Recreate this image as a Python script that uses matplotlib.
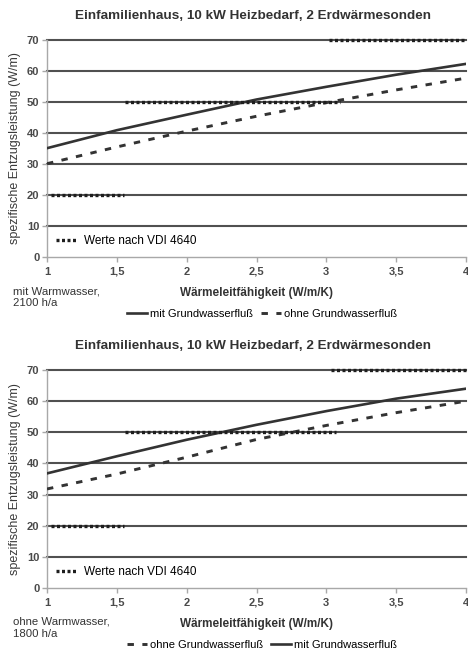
import matplotlib
matplotlib.use("Agg")
import matplotlib.pyplot as plt
from matplotlib.lines import Line2D

plt.rcParams['font.family'] = ['Liberation Sans', 'DejaVu Sans']

title = "Einfamilienhaus, 10 kW Heizbedarf, 2 Erdwärmesonden"
ylabel = "spezifische Entzugsleistung (W/m)"
xlabel = "Wärmeleitfähigkeit (W/m/K)"
vdi_label = "Werte nach VDI 4640"

x_vals = [1.0, 1.5, 2.0, 2.5, 3.0, 3.5, 4.0]
x_ticks = [1, 1.5, 2, 2.5, 3, 3.5, 4]
x_ticklabels = ["1", "1,5", "2", "2,5", "3", "3,5", "4"]
y_ticks = [0, 10, 20, 30, 40, 50, 60, 70]

# top chart: mit Warmwasser, 2100 h/a
top_mit = [35.1, 40.9, 45.9, 50.8, 54.9, 58.8, 62.3]
top_ohne = [30.1, 35.5, 40.6, 45.4, 49.8, 53.9, 57.7]
# bottom chart: ohne Warmwasser, 1800 h/a
bot_mit = [36.8, 42.3, 47.6, 52.4, 56.8, 60.8, 64.0]
bot_ohne = [31.8, 36.6, 42.0, 47.7, 52.2, 56.3, 60.0]

# VDI 4640 step values (x start, x end, value)
top_vdi_x = [[1.03, 1.55], [1.56, 3.10], [3.02, 4.0]]
bot_vdi_x = [[1.03, 1.55], [1.56, 3.07], [3.03, 4.0]]
vdi_y = [20, 50, 70]

top_note = "mit Warmwasser,\n2100 h/a"
bot_note = "ohne Warmwasser,\n1800 h/a"

W, H = 468, 655
fig = plt.figure(figsize=(W / 100, H / 100), dpi=100)

dark = "#333333"
dash_style = (2.2, 2.9)
dot_style = (0.9, 0.75)


def fy(p):
    return 1 - p / H


def make(ax_top_px, ax_bot_px, mit, ohne, vdi_x, note, order):
    left = 47 / W
    right = 466 / W
    ax = fig.add_axes([left, fy(ax_bot_px), right - left, fy(ax_top_px) - fy(ax_bot_px)])
    ax.set_xlim(1, 4)
    ax.set_ylim(0, 70)
    ax.set_facecolor("white")
    for v in y_ticks[1:]:
        ax.axhline(v, color="#505050", lw=1.5, zorder=1, clip_on=False)
    ax.plot(x_vals, mit, color=dark, lw=1.9, zorder=3, solid_joinstyle="round")
    ax.plot(x_vals, ohne, color=dark, lw=2.1, dashes=dash_style, zorder=3)
    for xs, v in zip(vdi_x, vdi_y):
        ax.plot(xs, [v, v], color="#1e1e1e", lw=2.4, dashes=dot_style, zorder=4,
                clip_on=False)
    for s in ("top", "right"):
        ax.spines[s].set_visible(False)
    for s in ("left", "bottom"):
        ax.spines[s].set_color("#a8a8a8")
        ax.spines[s].set_linewidth(1.0)
    ax.set_xticks(x_ticks)
    ax.set_xticklabels(x_ticklabels)
    ax.set_yticks(y_ticks)
    ax.tick_params(axis="both", colors="#a8a8a8", labelcolor="#4a4a4a",
                   labelsize=8, length=3.5, width=1)
    ax.tick_params(axis="x", pad=9.3)
    ax.tick_params(axis="y", pad=2)
    for lab in ax.get_xticklabels():
        lab.set_fontweight("bold")
        lab.set_verticalalignment("baseline")
    for lab in ax.get_yticklabels():
        lab.set_fontweight("bold")
    ax.set_ylabel(ylabel, fontsize=9, color="#3a3a3a")
    ax.yaxis.set_label_coords((21 - 47) / 419, 0.5)
    h_vdi = Line2D([0], [0], color="#1e1e1e", lw=2.4, dashes=dot_style)
    ax.legend([h_vdi], [vdi_label], loc="center left",
              bbox_to_anchor=(0.0, 5 / 70), frameon=False,
              handlelength=1.7, handletextpad=0.6, borderaxespad=0.4,
              prop={"size": 8.5})
    # title
    fig.text(253 / W, fy(ax_top_px - 24), title, ha="center", va="center",
             fontsize=9.7, fontweight="bold", color="#333333")
    # xlabel
    fig.text(257 / W, fy(ax_bot_px + 36), xlabel, ha="center", va="center",
             fontsize=8.5, fontweight="bold", color="#333333")
    # note
    fig.text(13 / W, fy(ax_bot_px + 40), note, ha="left", va="center",
             fontsize=8.2, color="#333333", linespacing=1.25)
    # bottom legend
    h_mit = Line2D([0], [0], color=dark, lw=1.9)
    h_ohne = Line2D([0], [0], color=dark, lw=2.1, dashes=dash_style)
    if order == "mit_first":
        handles, labels = [h_mit, h_ohne], ["mit Grundwasserfluß", "ohne Grundwasserfluß"]
    else:
        handles, labels = [h_ohne, h_mit], ["ohne Grundwasserfluß", "mit Grundwasserfluß"]
    fig.legend(handles, labels, loc="center", bbox_to_anchor=(262 / W, fy(ax_bot_px + 57)),
               ncol=2, frameon=False, fontsize=8, handlelength=1.8,
               handletextpad=0.3, columnspacing=0.7, borderpad=0)
    return ax


make(40, 257, top_mit, top_ohne, top_vdi_x, top_note, "mit_first")
make(370, 588, bot_mit, bot_ohne, bot_vdi_x, bot_note, "ohne_first")

fig.savefig("out.png", dpi=100, facecolor="white")
